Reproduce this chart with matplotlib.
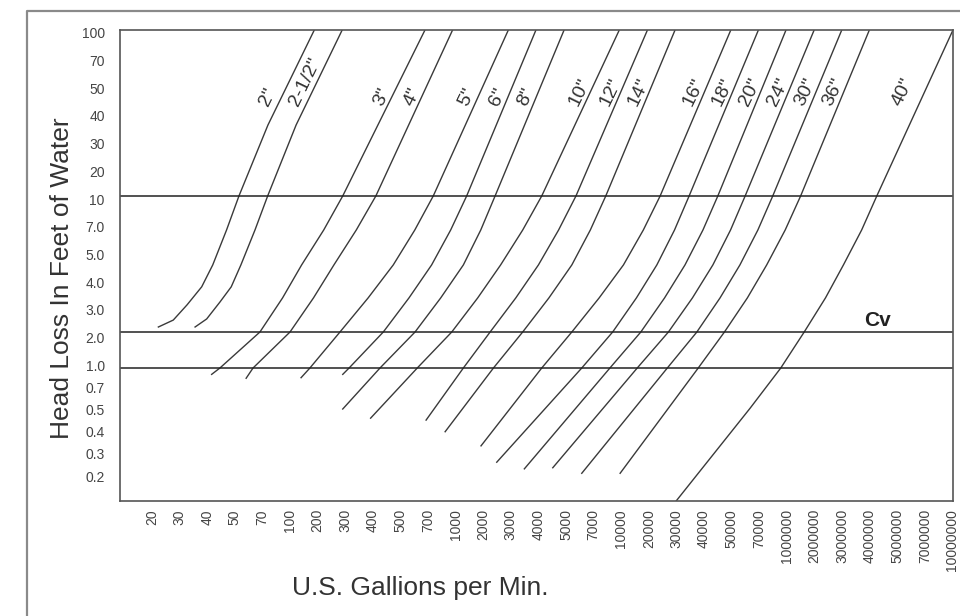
import numpy as np
import matplotlib.pyplot as plt
from matplotlib.lines import Line2D

plt.rcParams['font.family'] = ['Liberation Sans', 'DejaVu Sans']

# -----------------------------
# axis labels (evenly spaced chart ticks)
# -----------------------------
gpm_labels = ['20', '30', '40', '50', '70', '100', '200', '300', '400', '500',
              '700', '1000', '2000', '3000', '4000', '5000', '7000', '10000',
              '20000', '30000', '40000', '50000', '70000', '1000000', '2000000',
              '3000000', '4000000', '5000000', '7000000', '10000000']
head_labels = ['100', '70', '50', '40', '30', '20', '10', '7.0', '5.0', '4.0',
               '3.0', '2.0', '1.0', '0.7', '0.5', '0.4', '0.3', '0.2']
head_pos = [16.9, 15.9, 14.9, 13.9, 12.9, 11.9, 10.9, 9.9, 8.9, 7.9,
            6.9, 5.9, 4.9, 4.1, 3.3, 2.5, 1.7, 0.9]

# horizontal reference lines (chart row units)
ref_lines = [11.0, 6.1, 4.8]

# -----------------------------
# pipe size curves: (gpm tick position, head row position)
# -----------------------------
sizes = ['2"', '2-1/2"', '3"', '4"', '5"', '6"', '8"', '10"', '12"', '14"',
         '16"', '18"', '20"', '24"', '30"', '36"', '40"']

rows = [17.0, 11.01, 9.78, 8.52, 7.33, 6.10, 4.80]

pipe_2 = ([5.88, 4.20, 3.15, 2.70, 2.20, 1.80, 1.27, 0.77, 0.23],
          [17.0, 13.57, 11.01, 9.78, 8.52, 7.73, 7.08, 6.53, 6.28])
pipe_2h = ([6.89, 5.22, 4.19, 3.73, 3.22, 2.87, 2.46, 1.98, 1.56],
           [17.0, 13.57, 11.01, 9.78, 8.52, 7.73, 7.18, 6.57, 6.28])
pipe_3 = ([9.89, 6.91, 6.22, 5.42, 4.73, 3.91, 2.46, 2.16], rows + [4.57])
pipe_4 = ([10.89, 8.11, 7.40, 6.59, 5.85, 5.00, 3.66, 3.41], rows + [4.43])
pipe_5 = ([12.91, 10.19, 9.52, 8.74, 7.83, 6.81, 5.72, 5.40], rows + [4.45])
pipe_6 = ([13.91, 11.40, 10.82, 10.13, 9.31, 8.38, 7.14, 6.91], rows + [4.57])
pipe_8 = ([14.93, 12.43, 11.91, 11.28, 10.46, 9.53, 8.26, 6.91], rows + [3.32])
pipe_10 = ([16.93, 14.12, 13.43, 12.63, 11.80, 10.86, 9.61, 7.92], rows + [2.99])
pipe_12 = ([17.95, 15.36, 14.73, 14.00, 13.18, 12.25, 11.28, 9.93], rows + [2.92])
pipe_14 = ([18.95, 16.44, 15.88, 15.21, 14.38, 13.43, 12.37, 10.62], rows + [2.50])
pipe_16 = ([20.97, 18.41, 17.80, 17.08, 16.20, 15.21, 14.12, 11.92], rows + [1.99])
pipe_18 = ([21.97, 19.46, 18.93, 18.29, 17.55, 16.69, 15.57, 12.49], rows + [1.40])
pipe_20 = ([22.97, 20.50, 19.96, 19.31, 18.57, 17.71, 16.59, 13.49], rows + [1.16])
pipe_24 = ([23.99, 21.49, 20.96, 20.32, 19.58, 18.71, 17.58, 14.52], rows + [1.20])
pipe_30 = ([24.99, 22.49, 21.95, 21.30, 20.58, 19.74, 18.67, 15.57], rows + [1.00])
pipe_36 = ([25.99, 23.50, 22.94, 22.27, 21.57, 20.74, 19.79, 16.96], rows + [1.00])
pipe_40 = ([29.02, 26.26, 25.71, 25.05, 24.40, 23.63, 22.78, 21.67, 18.99],
           rows + [3.35, 0.0])

curves = [pipe_2, pipe_2h, pipe_3, pipe_4, pipe_5, pipe_6, pipe_8, pipe_10,
          pipe_12, pipe_14, pipe_16, pipe_18, pipe_20, pipe_24, pipe_30,
          pipe_36, pipe_40]

# label shift to the left of each curve (tick units)
label_shift = [0.5, 0.45, 0.35, 0.35, 0.4, 0.4, 0.4, 0.4, 0.4, 0.4,
               0.4, 0.4, 0.4, 0.4, 0.4, 0.4, 0.8]
label_row = 14.3

# -----------------------------
# plot
# -----------------------------
fig = plt.figure(figsize=(9.6, 6.16), dpi=100)
ax = fig.add_axes([0.125, 0.1867, 0.8677, 0.7646])
ax.set_xlim(-1.16, 29.02)
ax.set_ylim(0, 17.0)

line_col = '#3a3a3a'
for (gx, hy), name, sh in zip(curves, sizes, label_shift):
    ax.plot(gx, hy, color=line_col, lw=1.0, solid_joinstyle='round')
    # label sits just left of the curve, along its direction
    xs = np.interp(label_row, hy[::-1], gx[::-1])
    ax.text(xs - sh, label_row, name, rotation=64, rotation_mode='anchor',
            ha='left', va='center', fontsize=14, color='#333333')

for r in ref_lines:
    ax.axhline(r, color='#222222', lw=1.1)

ax.text(26.27, 6.5, 'Cv', fontsize=15, fontweight='bold', color='#222222',
        ha='center', va='center')

ax.set_xticks(range(len(gpm_labels)))
ax.set_xticklabels(gpm_labels, rotation=90, fontsize=10, color='#444444')
ax.set_yticks(head_pos)
ax.set_yticklabels(head_labels, fontsize=10, color='#444444')
ax.tick_params(axis='both', length=0)
ax.tick_params(axis='x', pad=5.8)
ax.tick_params(axis='y', pad=11)

for s in ax.spines.values():
    s.set_color('#555555')
    s.set_linewidth(1.2)

fig.text(0.4375, 0.0455, 'U.S. Gallions per Min.', fontsize=19,
         color='#333333', ha='center', va='center')
fig.text(0.0646, 0.549, 'Head Loss In Feet of Water', fontsize=19,
         color='#333333', ha='center', va='center', rotation=90)

# outer frame (top and left edges visible)
fig.add_artist(Line2D([0.028, 0.028, 1.0], [0.0, 0.982, 0.982],
                      transform=fig.transFigure, color='#8a8a8a', lw=1.6))

fig.savefig('out.png', dpi=100)
